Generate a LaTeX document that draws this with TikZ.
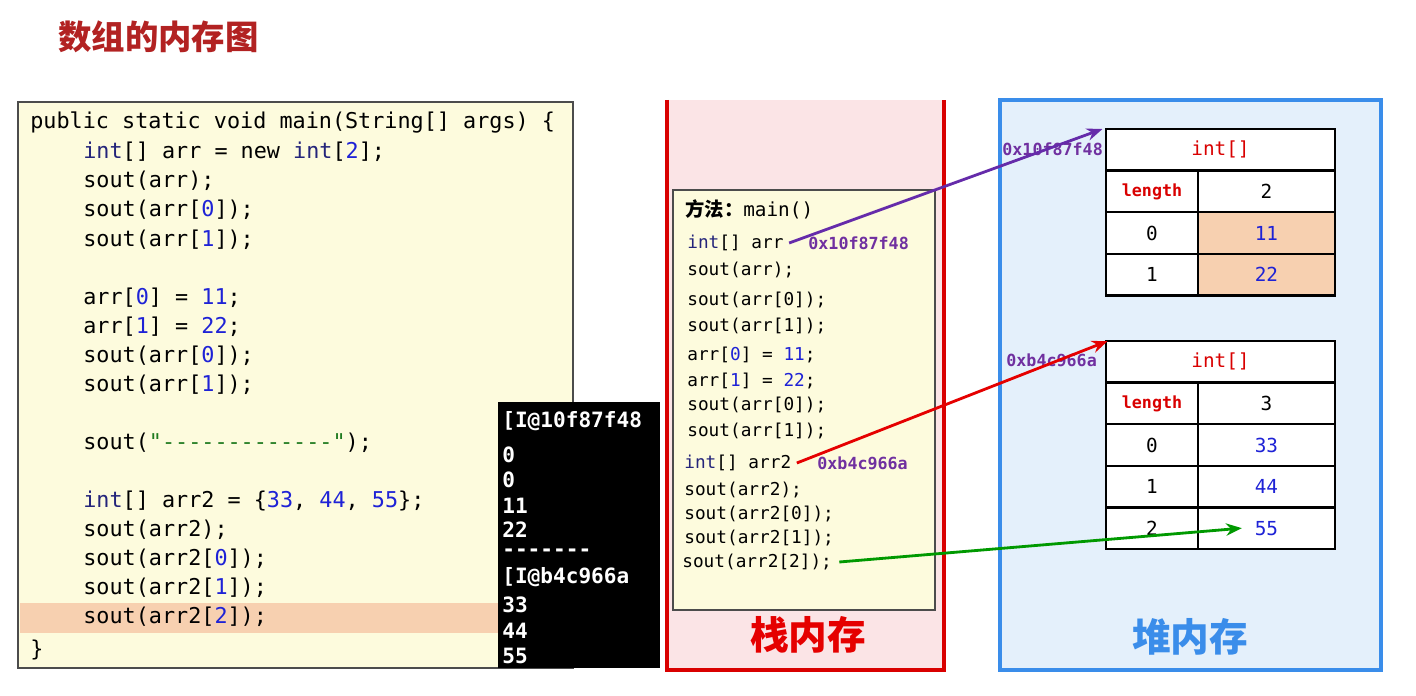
\documentclass[tikz,border=0pt]{standalone}
\usepackage{fontspec}
\setmainfont{Liberation Sans}
\newfontfamily\codefont{DejaVu Sans Mono}
\newfontfamily\cjk{Noto Sans CJK SC}
\usetikzlibrary{arrows.meta,positioning}
\definecolor{codebg}{HTML}{FDFBDD}
\definecolor{hlrow}{HTML}{F7D0B0}
\definecolor{numblue}{HTML}{1E22D6}
\definecolor{kwblue}{HTML}{24247A}
\definecolor{strgreen}{HTML}{1E7A1E}
\definecolor{stackbg}{HTML}{FBE4E6}
\definecolor{heapbg}{HTML}{E4F0FB}
\definecolor{heapline}{HTML}{3A8DEA}
\definecolor{addr}{HTML}{7030A0}
\definecolor{titlered}{HTML}{B22222}
\newcommand{\nm}[1]{\textcolor{numblue}{#1}}
\newcommand{\kw}[1]{\textcolor{kwblue}{#1}}
\newcommand{\hy}{\mbox{-}}
\begin{document}
\begin{tikzpicture}[x=0.02cm,y=-0.02cm]
	\tikzstyle{every node}=[inner sep=0pt]
	\tikzstyle{code}=[font=\codefont\fontsize{12.4}{14}\selectfont,anchor=west]
	\tikzstyle{stk}=[font=\codefont\fontsize{10.1}{12}\selectfont,anchor=west]
	\tikzstyle{con}=[font=\codefont\bfseries\fontsize{12}{14}\selectfont,anchor=west,text=white]
	\tikzstyle{cell}=[draw,line width=1.4pt,outer sep=0pt,minimum height=0.832cm,font=\codefont\fontsize{11}{13}\selectfont]
	\tikzstyle{adr}=[font=\codefont\bfseries\fontsize{9.5}{11}\selectfont,text=addr,anchor=west]
	\tikzstyle{ptr}=[line width=1.6pt,-{Stealth[length=9pt,width=7pt]}]
	\useasboundingbox (0,0) rectangle (1416,696);
	\fill[white] (0,0) rectangle (1416,696);
	% title
	\node[font=\cjk\bfseries\fontsize{19}{22}\selectfont,text=titlered,anchor=west] (title) at (58,37) {数组的内存图};
	% code
	\draw[fill=codebg,draw=black!70,line width=0.8pt] (18,102) rectangle (573,668);
	\fill[hlrow] (20,603) rectangle (500,633);
	\node[code] (c1) at (30,123) {public static void main(String[] args) \{};
	\node[code] at (83,152) {\kw{int}[] arr = new \kw{int}[\nm{2}];};
	\node[code] at (83,181) {sout(arr);};
	\node[code] at (83,210) {sout(arr[\nm{0}]);};
	\node[code] at (83,240) {sout(arr[\nm{1}]);};
	\node[code] at (83,298) {arr[\nm{0}] = \nm{11};};
	\node[code] at (83,327) {arr[\nm{1}] = \nm{22};};
	\node[code] at (83,356) {sout(arr[\nm{0}]);};
	\node[code] at (83,385) {sout(arr[\nm{1}]);};
	\node[code] at (83,443) {sout(\textcolor{strgreen}{"\hy\hy\hy\hy\hy\hy\hy\hy\hy\hy\hy\hy\hy"});};
	\node[code] at (83,501) {\kw{int}[] arr2 = \{\nm{33}, \nm{44}, \nm{55}\};};
	\node[code] at (83,530) {sout(arr2);};
	\node[code] at (83,559) {sout(arr2[\nm{0}]);};
	\node[code] at (83,588) {sout(arr2[\nm{1}]);};
	\node[code] at (83,617) {sout(arr2[\nm{2}]);};
	\node[code] at (30,650) {\}};
	% console
	\fill[black] (498,402) rectangle (660,668);
	\node[con] at (502,421) {[I@10f87f48};
	\foreach \t/\y in {0/455,0/480,11/506,22/530,{\hy\hy\hy\hy\hy\hy\hy}/553,{[I@b4c966a}/577,33/605,44/631,55/656}
		\node[con] at (502,\y) {\t};
	% stack
	\fill[stackbg] (667,100) rectangle (944,670);
	\draw[red!85!black,line width=2pt] (667,100) -- (667,670) -- (944,670) -- (944,100);
	\draw[fill=codebg,draw=black!70,line width=0.8pt] (673,190) rectangle (935,610);
	\node[anchor=west,font=\fontsize{11}{13}\selectfont] (meth) at (685,209) {{\cjk\bfseries 方法：}{\codefont main()}};
	\node[stk] (sarr) at (687,243) {\kw{int}[] arr};
	\foreach \t/\y in {sout(arr);/270,sout(arr[0]);/300,sout(arr[1]);/326,{arr[\nm{0}] = \nm{11};}/355,{arr[\nm{1}] = \nm{22};}/381,sout(arr[0]);/405,sout(arr[1]);/431}
		\node[stk] at (687,\y) {\t};
	\node[stk] (sarr2) at (684,463) {\kw{int}[] arr2};
	\foreach \t/\y in {sout(arr2);/490,sout(arr2[0]);/514,sout(arr2[1]);/538}
		\node[stk] at (684,\y) {\t};
	\node[stk] (sout22) at (682,562) {sout(arr2[2]);};
	\node[adr] at (808,243) {0x10f87f48};
	\node[adr] at (817,463) {0xb4c966a};
	\node[font=\cjk\bfseries\fontsize{22}{26}\selectfont,text=red!90!black] (stackname) at (808,635) {栈内存};
	% heap
	\draw[fill=heapbg,draw=heapline,line width=2.2pt] (1000,100) rectangle (1381,670);
	\node[font=\cjk\bfseries\fontsize{22}{26}\selectfont,text=heapline] (heapname) at (1190,637) {堆内存};
	\node[adr] at (1002,149) {0x10f87f48};
	\node[adr] at (1006,360) {0xb4c966a};
	% array 1
	\node[cell,fill=white,minimum width=4.58cm,anchor=north west,text=red!85!black] (hA) at (1106,129) {int[]};
	\node[cell,fill=white,minimum width=1.84cm,anchor=north west,text=red!85!black,font=\codefont\bfseries\fontsize{9.5}{11}\selectfont] (lA) at (hA.south west) {length};
	\node[cell,fill=white,minimum width=2.74cm,anchor=west] (vA) at (lA.east) {2};
	\node[cell,fill=white,minimum width=1.84cm,anchor=north] (iA0) at (lA.south) {0};
	\node[cell,fill=hlrow,minimum width=2.74cm,anchor=west,text=numblue] (vA0) at (iA0.east) {11};
	\node[cell,fill=white,minimum width=1.84cm,anchor=north] (iA1) at (iA0.south) {1};
	\node[cell,fill=hlrow,minimum width=2.74cm,anchor=west,text=numblue] (vA1) at (iA1.east) {22};
	% array 2
	\node[cell,fill=white,minimum width=4.58cm,anchor=north west,text=red!85!black] (hB) at (1106,341) {int[]};
	\node[cell,fill=white,minimum width=1.84cm,anchor=north west,text=red!85!black,font=\codefont\bfseries\fontsize{9.5}{11}\selectfont] (lB) at (hB.south west) {length};
	\node[cell,fill=white,minimum width=2.74cm,anchor=west] (vB) at (lB.east) {3};
	\node[cell,fill=white,minimum width=1.84cm,anchor=north] (iB0) at (lB.south) {0};
	\node[cell,fill=white,minimum width=2.74cm,anchor=west,text=numblue] (vB0) at (iB0.east) {33};
	\node[cell,fill=white,minimum width=1.84cm,anchor=north] (iB1) at (iB0.south) {1};
	\node[cell,fill=white,minimum width=2.74cm,anchor=west,text=numblue] (vB1) at (iB1.east) {44};
	\node[cell,fill=white,minimum width=1.84cm,anchor=north] (iB2) at (iB1.south) {2};
	\node[cell,fill=white,minimum width=2.74cm,anchor=west,text=numblue] (vB2) at (iB2.east) {55};
	% pointers
	\draw[ptr,addr!90!blue] ([xshift=3pt]sarr.east) -- ([xshift=-2pt]hA.north west);
	\draw[ptr,red!90!black] ([xshift=3pt]sarr2.east) -- ([xshift=1pt]hB.north west);
	\draw[ptr,green!60!black] ([xshift=4pt]sout22.east) -- ([xshift=-14pt]vB2.center);
\end{tikzpicture}
\end{document}
